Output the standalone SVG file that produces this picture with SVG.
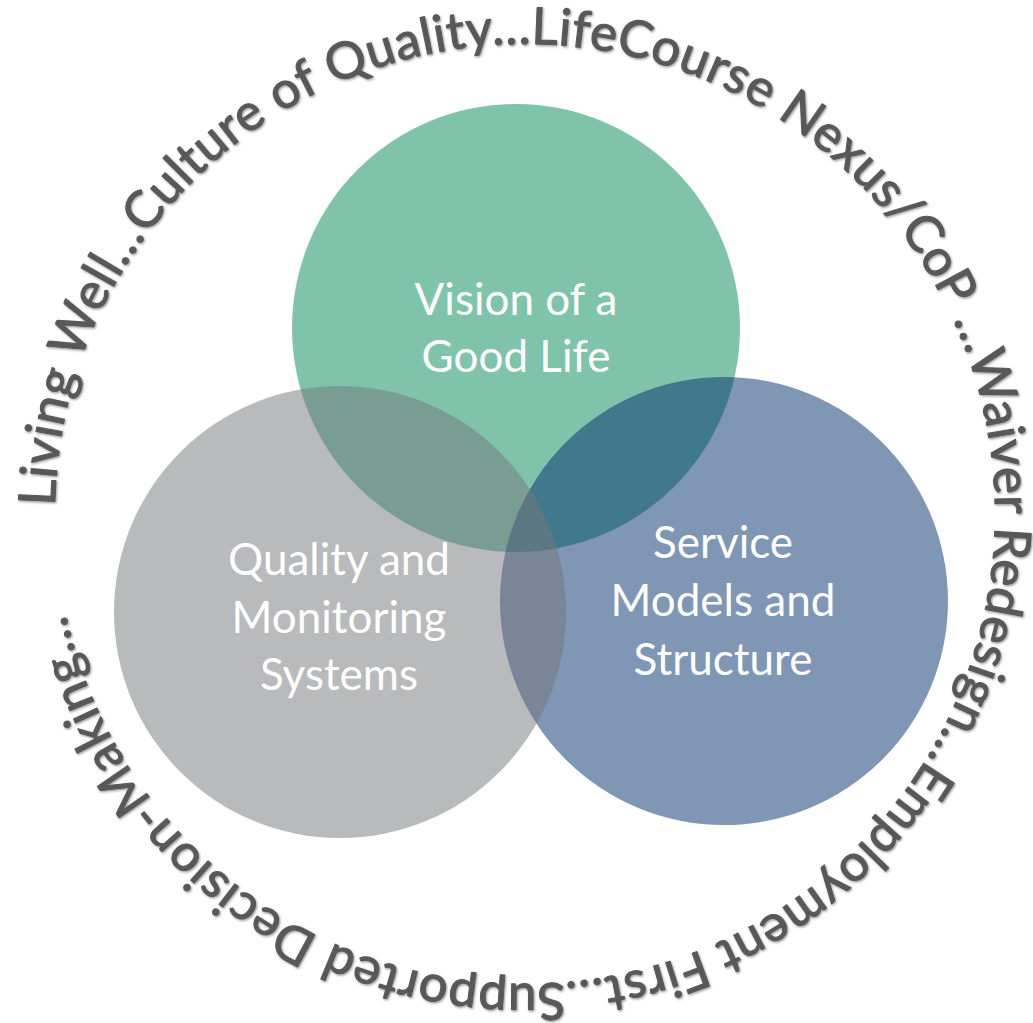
<svg xmlns="http://www.w3.org/2000/svg" xmlns:xlink="http://www.w3.org/1999/xlink" width="1033" height="1023" viewBox="0 0 1033 1023">
  <style>
    .label { font-family: Lato, "Open Sans", "Liberation Sans", sans-serif; font-size: 44px; fill: #ffffff; text-anchor: middle; }
    .ring { font-family: Lato, "Open Sans", "Liberation Sans", sans-serif; font-size: 51px; fill: #595959; stroke: #595959; stroke-width: 1.1px; stroke-linejoin: round; }
  </style>
  <defs>
    <path id="ringPath" d="M55.07,505.8 A470,470 0 1 1 994.93,522.2 A470,470 0 1 1 55.07,505.8"/>
    <filter id="emboss" x="-5%" y="-5%" width="110%" height="110%">
      <feDropShadow dx="1" dy="1.3" stdDeviation="0.9" flood-color="#000000" flood-opacity="0.4"/>
    </filter>
  </defs>
  <rect width="1033" height="1023" fill="#ffffff"/>
  <g id="circles">
    <circle id="circle-vision" cx="516" cy="328" r="224" fill="#008A55" fill-opacity="0.5"/>
    <circle id="circle-service" cx="724" cy="601" r="224" fill="#012D6B" fill-opacity="0.5"/>
    <circle id="circle-quality" cx="340" cy="612" r="226" fill="#737579" fill-opacity="0.5"/>
  </g>
  <g id="connectors"/>
  <g id="node-vision">
    <text class="label" x="516" y="315">Vision of a<tspan x="516" dy="57">Good Life</tspan></text>
  </g>
  <g id="node-quality">
    <text class="label" x="339" y="575">Quality and<tspan x="339" dy="58">Monitoring</tspan><tspan x="339" dy="57">Systems</tspan></text>
  </g>
  <g id="node-service">
    <text class="label" x="723" y="558">Service<tspan x="723" dy="58">Models and</tspan><tspan x="723" dy="59">Structure</tspan></text>
  </g>
  <g id="ring-text" filter="url(#emboss)">
    <text class="ring"><textPath xlink:href="#ringPath" href="#ringPath" textLength="2843" lengthAdjust="spacing">Living Well…Culture of Quality…LifeCourse Nexus/CoP …Waiver Redesign…Employment First…Supported Decision-Making…</textPath></text>
  </g>
</svg>
